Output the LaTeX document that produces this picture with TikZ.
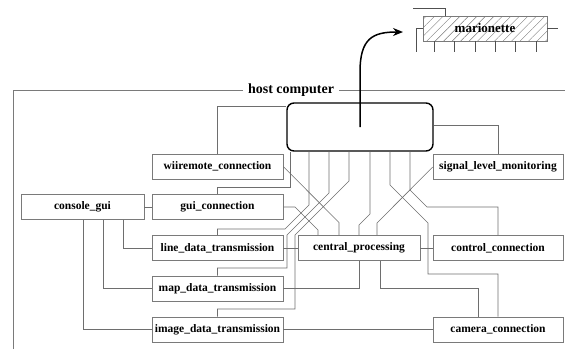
\documentclass[tikz,border=0pt]{standalone}
\usepackage{fontspec}
\setmainfont{Liberation Serif}
\usetikzlibrary{arrows.meta,patterns.meta}
\definecolor{wirecol}{HTML}{6E6E6E}
\definecolor{framecol}{HTML}{7A7A7A}
\definecolor{pincol}{HTML}{505050}
\begin{document}
\begin{tikzpicture}[x=1pt,y=-1pt,
  comp/.style={draw=framecol, fill=white, line width=0.6pt, minimum width=131pt,
    minimum height=25pt, inner sep=0pt, font=\fontsize{11.5}{13}\selectfont\bfseries},
  link/.style={draw=wirecol, line width=0.6pt},
  pin/.style={draw=pincol, line width=0.6pt},
]
\path[use as bounding box] (0,0) rectangle (565,349);

% host computer frame
\node[font=\fontsize{14}{16}\selectfont\bfseries, inner sep=5pt] (hclabel) at (291,90) {host computer};
\draw[draw=framecol, line width=0.6pt] (13,349) |- (hclabel.west);
\draw[draw=framecol, line width=0.6pt] (hclabel.east) -- (565,90);

% central host block
\node[draw=black, line width=1.4pt, rounded corners=7pt, minimum width=146pt,
      minimum height=48pt, inner sep=0pt] (host) at (360,127) {};

% marionette
\node[draw=framecol, line width=0.6pt, minimum width=124pt, minimum height=25pt, inner sep=0pt,
      pattern={Lines[angle=45,distance=6pt,line width=0.4pt]}, pattern color=framecol,
      font=\fontsize{13}{15}\selectfont\bfseries] (mar) at (485,28.5) {marionette};
\draw[pin] (413,8) -| (445,0 |- mar.north);
\draw[pin] (mar.west) -- (416,28.5) -- (416,52);
\draw[pin] (mar.east) -- (558,28.5);
\foreach \px in {434,454,475,495,515,536}
  \draw[pin] (\px,0 |- mar.south) -- (\px,52);

% components
\node[comp, minimum width=123pt] (console) at (82.5,207) {console\_gui};
\node[comp] (wii)     at (217.5,166.5) {wiiremote\_connection};
\node[comp] (gui)     at (217.5,207)   {gui\_connection};
\node[comp] (line)    at (217.5,248)   {line\_data\_transmission};
\node[comp] (map)     at (217.5,288.5) {map\_data\_transmission};
\node[comp] (image)   at (217.5,329.5) {image\_data\_transmission};
\node[comp, minimum width=122pt] (central) at (359,248) {central\_processing};
\node[comp, minimum width=130pt] (signal)  at (498,167)   {signal\_level\_monitoring};
\node[comp, minimum width=130pt] (control) at (498,248)   {control\_connection};
\node[comp, minimum width=130pt] (camera)  at (498,329.5) {camera\_connection};

% arrow from the host block to the marionette
\coordinate (tip) at (403,32);
\draw[line width=1.5pt, -{Stealth[length=10pt,width=8pt]}]
  (host.center) -- (360,72) .. controls +(0,-34) and +(-30,0) .. (tip);

% console_gui links
\draw[link] (console.east) -- (gui.west);
\draw[link] (123,0 |- console.south) |- (line.west);
\draw[link] (103,0 |- console.south) |- (map.west);
\draw[link] (83,0 |- console.south) |- (image.west);

% links to the host block
\draw[link] (wii.north) |- ([yshift=-4pt]host.north west);
\draw[link] (signal.north) |- ([yshift=2pt]host.east);
\draw[link] (gui.north) |- (290,187) -- (290,0 |- host.south);
\draw[link] (line.north) |- (285,229) -- (309,205) -- (309,0 |- host.south);
\draw[link] (map.north) |- (287,268) -- (287,235) -- (329,193) -- (329,0 |- host.south);
\draw[link] (image.north) |- (295,309) -- (295,235) -- (349,181) -- (349,0 |- host.south);
\draw[link] (359,0 |- central.north) -- (359,225) -- (370,214) -- (370,0 |- host.south);
\draw[link] (498,0 |- camera.north) |- (428,274) -- (428,223) -- (390,185) -- (390,0 |- host.south);
\draw[link] (control.north) |- (427,207) -- (410,190) -- (410,0 |- host.south);

% links to central_processing
\draw[link] (wii.east) -- (339,222.5) -- (339,0 |- central.north);
\draw[link] (gui.east) -- (295,207) -- (318,230) -- (318,0 |- central.north);
\draw[link] (line.east) -- (central.west);
\draw[link] (map.east) -| (central.south);
\draw[link] (signal.west) -- (377,223) -- (377,0 |- central.north);
\draw[link] (central.east) -- (control.west);
\draw[link] (380,0 |- central.south) |- (478,288) -- (478,0 |- camera.north);
\draw[link] (image.east) -- (camera.west);
\end{tikzpicture}
\end{document}
